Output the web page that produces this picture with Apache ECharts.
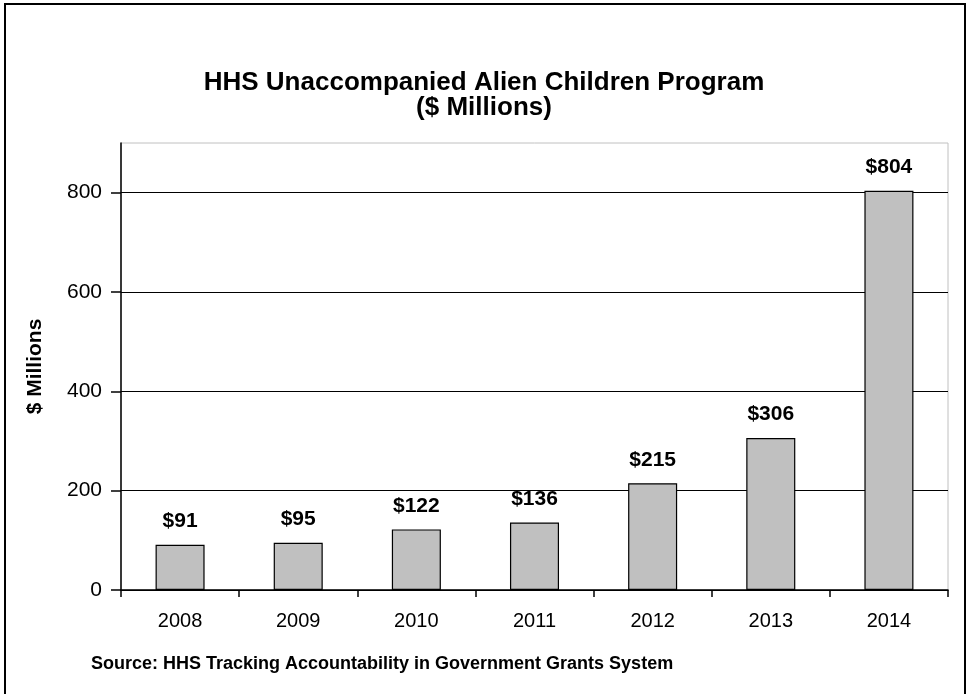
<!DOCTYPE html>
<html>
<head>
<meta charset="utf-8">
<script src="https://cdn.jsdelivr.net/npm/echarts@6/dist/echarts.min.js"></script>
<style>
html,body{margin:0;padding:0;background:#fff;overflow:hidden;}
#chart{width:968px;height:694px;position:absolute;left:0;top:0;}
#frame{position:absolute;left:4px;top:3px;width:958px;height:720px;border:2px solid #000;pointer-events:none;}
</style>
</head>
<body>
<div id="chart"></div>
<div id="frame"></div>
<script>
var years = ['2008','2009','2010','2011','2012','2013','2014'];
var funding = [91, 95, 122, 136, 215, 306, 804];
var yTicks = [0, 200, 400, 600, 800];

var chart = echarts.init(document.getElementById('chart'), null, {renderer:'canvas'});
var font = 'Liberation Sans, Arial, sans-serif';
chart.setOption({
  animation: false,
  backgroundColor: '#fff',
  title: [{
    text: 'HHS Unaccompanied Alien Children Program\n($ Millions)',
    left: 'center', top: 65,
    textStyle: {fontFamily: font, fontSize: 26, fontWeight: 'bold', color: '#000', lineHeight: 25}
  }, {
    text: 'Source: HHS Tracking Accountability in Government Grants System',
    left: 86, top: 650,
    textStyle: {fontFamily: font, fontSize: 18, fontWeight: 'bold', color: '#000'}
  }],
  grid: {left: 121, right: 20, top: 143, bottom: 104, show: true, borderColor: '#c0c0c0', borderWidth: 1},
  xAxis: {
    type: 'category', data: years,
    axisLine: {lineStyle: {color: '#000', width: 1.5}},
    axisTick: {show: true, length: 7, lineStyle: {color: '#000', width: 1.5}},
    axisLabel: {fontFamily: font, fontSize: 20, color: '#000', margin: 21}
  },
  yAxis: {
    type: 'value', min: 0, max: 900, interval: 200,
    name: '$ Millions', nameLocation: 'middle', nameGap: 75,
    nameTextStyle: {fontFamily: font, fontSize: 21, fontWeight: 'bold', color: '#000'},
    axisLine: {show: true, lineStyle: {color: '#000', width: 1.5}},
    axisTick: {show: true, length: 10, lineStyle: {color: '#000', width: 1.5},
      customValues: yTicks},
    axisLabel: {fontFamily: font, fontSize: 21, color: '#000', margin: 19,
      customValues: yTicks},
    splitLine: {show: true, lineStyle: {color: ['#000','#000','#000','#000','#000','rgba(0,0,0,0)'], width: 1.2}}
  },
  series: [{
    type: 'bar', data: funding, barWidth: '41.5%',
    itemStyle: {color: '#c0c0c0', borderColor: '#000', borderWidth: 1.2},
    label: {show: true, position: 'top', distance: 13, formatter: function(p){return '$' + p.value;},
      fontFamily: font, fontSize: 21, fontWeight: 'bold', color: '#000'}
  }]
});
</script>
</body>
</html>
